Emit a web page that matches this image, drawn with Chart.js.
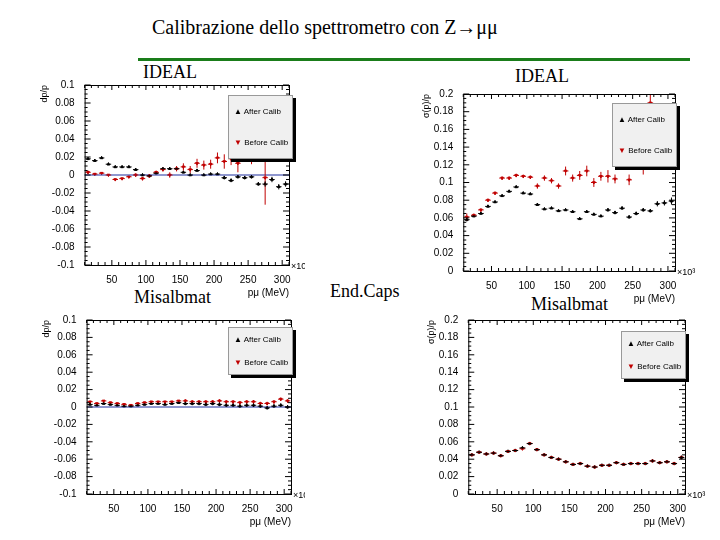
<!DOCTYPE html>
<html><head><meta charset="utf-8">
<script src="https://cdn.jsdelivr.net/npm/chart.js@4"></script>
<style>
body{margin:0;width:720px;height:540px;background:#fff;position:relative;overflow:hidden;font-family:"Liberation Serif",serif}
.t{position:absolute;font-size:18px;color:#000}
canvas{position:absolute}
.leg{position:absolute;background:#f0f0f0;border:1px solid #999;box-shadow:3px 3px 0 #000;font-family:"Liberation Sans",sans-serif;font-size:8px;padding:0 0 0 5px;width:58px;white-space:nowrap;overflow:hidden}
.leg div{height:31px;line-height:31px}
.leg.s div{height:23px;line-height:23px}
</style></head><body>
<div class="t" style="left:152px;top:16px;font-size:20px">Calibrazione dello spettrometro con Z→μμ</div>
<div style="position:absolute;left:138px;top:58px;width:552px;height:3px;background:#1a7d1a"></div>
<div class="t" style="left:143px;top:62px">IDEAL</div>
<div class="t" style="left:515px;top:66px">IDEAL</div>
<div class="t" style="left:134px;top:287px">Misalbmat</div>
<div class="t" style="left:330px;top:281px">End.Caps</div>
<div class="t" style="left:531px;top:294px">Misalbmat</div>
<canvas id="c1" width="280" height="228" style="left:25px;top:73px"></canvas>
<canvas id="c2" width="295" height="227" style="left:410px;top:80px"></canvas>
<canvas id="c3" width="280" height="222" style="left:25px;top:308px"></canvas>
<canvas id="c4" width="295" height="220" style="left:412px;top:310px"></canvas>
<script>
const pBins = [15,25,35,45,55,65,75,85,95,105,115,125,135,145,155,165,175,185,195,205,215,225,235,245,255,265,275,285,295,305];
const xTicks = [50,100,150,200,250,300];

const biasIdealAfter  = [0.018,0.016,0.019,0.012,0.009,0.009,0.009,0.006,0.000,-0.001,0.002,0.007,0.007,0.007,0.003,0.000,0.005,0.000,0.001,0.001,-0.003,-0.006,-0.002,-0.003,-0.002,-0.010,-0.010,-0.005,-0.013,-0.010];
const biasIdealAfterErr = [0.001,0.001,0.001,0.001,0.001,0.001,0.001,0.001,0.001,0.001,0.001,0.001,0.001,0.001,0.001,0.001,0.001,0.001,0.001,0.001,0.002,0.002,0.002,0.002,0.002,0.002,0.003,0.003,0.003,0.003];
const biasIdealBefore = [0.003,0.001,0.002,0.000,-0.005,-0.004,-0.002,0.000,-0.004,-0.001,0.003,0.006,0.000,0.007,0.009,0.006,0.013,0.011,0.012,0.019,0.015,0.018,0.013,0.026,0.022,0.025,-0.003,0.040,0.040,0.045];
const biasIdealBeforeErr = [0.002,0.001,0.001,0.001,0.001,0.001,0.001,0.002,0.002,0.002,0.002,0.002,0.003,0.003,0.004,0.004,0.005,0.005,0.005,0.006,0.008,0.007,0.010,0.007,0.010,0.008,0.030,0.015,0.020,0.020];

const resIdealAfter  = [0.058,0.062,0.065,0.073,0.078,0.085,0.090,0.095,0.088,0.087,0.075,0.070,0.071,0.068,0.069,0.067,0.059,0.067,0.064,0.062,0.069,0.066,0.071,0.061,0.065,0.069,0.068,0.076,0.077,0.079];
const resIdealAfterErr = [0.002,0.001,0.001,0.001,0.001,0.001,0.001,0.001,0.001,0.001,0.001,0.001,0.001,0.001,0.001,0.001,0.001,0.001,0.001,0.001,0.002,0.002,0.002,0.002,0.002,0.002,0.002,0.003,0.003,0.004];
const resIdealBefore = [0.061,0.063,0.069,0.080,0.088,0.105,0.105,0.108,0.107,0.106,0.096,0.105,0.102,0.096,0.113,0.105,0.108,0.113,0.100,0.107,0.107,0.104,0.130,0.103,0.130,0.117,0.190,0.150,0.160,0.170];
const resIdealBeforeErr = [0.004,0.002,0.002,0.002,0.002,0.002,0.002,0.002,0.002,0.002,0.003,0.003,0.003,0.003,0.005,0.004,0.005,0.006,0.005,0.005,0.007,0.005,0.010,0.006,0.012,0.008,0.015,0.015,0.015,0.015];

const biasMisAfter  = [0.003,0.002,0.004,0.003,0.002,0.001,0.001,0.002,0.003,0.004,0.004,0.003,0.004,0.005,0.004,0.004,0.004,0.003,0.004,0.003,0.002,0.002,0.001,0.002,0.002,0.001,-0.001,0.001,0.002,0.000];
const biasMisBefore = [0.006,0.004,0.007,0.005,0.004,0.003,0.002,0.004,0.005,0.006,0.006,0.006,0.006,0.007,0.007,0.006,0.006,0.006,0.006,0.007,0.006,0.006,0.005,0.006,0.006,0.004,0.004,0.006,0.009,0.007];
const biasMisErr = [0.001,0.001,0.001,0.001,0.001,0.001,0.001,0.001,0.001,0.001,0.001,0.001,0.001,0.001,0.002,0.002,0.002,0.002,0.002,0.002,0.002,0.002,0.002,0.002,0.002,0.002,0.002,0.002,0.002,0.002];

const resMisAfter  = [0.045,0.048,0.046,0.047,0.044,0.049,0.050,0.053,0.058,0.051,0.045,0.042,0.040,0.037,0.034,0.035,0.032,0.031,0.033,0.033,0.036,0.034,0.035,0.035,0.035,0.038,0.036,0.037,0.035,0.042];
const resMisBefore = [0.045,0.048,0.046,0.047,0.044,0.049,0.050,0.052,0.058,0.051,0.045,0.042,0.040,0.037,0.034,0.035,0.032,0.031,0.033,0.033,0.036,0.034,0.035,0.035,0.035,0.038,0.036,0.037,0.035,0.042];
const resMisErr = [0.001,0.001,0.001,0.001,0.001,0.001,0.001,0.001,0.001,0.001,0.001,0.001,0.001,0.001,0.001,0.001,0.001,0.001,0.001,0.001,0.001,0.001,0.001,0.001,0.001,0.001,0.001,0.001,0.001,0.002];

const errBars = {
  id: 'errBars',
  afterDatasetsDraw(chart) {
    const {ctx, scales: {x, y}} = chart;
    const a = chart.chartArea;
    ctx.save();
    ctx.beginPath(); ctx.rect(a.left, a.top, a.width, a.height); ctx.clip();
    chart.data.datasets.forEach(ds => {
      if (!ds.err) return;
      ctx.strokeStyle = ds.borderColor; ctx.lineWidth = 1;
      ds.data.forEach((p, i) => {
        const e = ds.err[i];
        ctx.beginPath();
        ctx.moveTo(x.getPixelForValue(p.x - 4), y.getPixelForValue(p.y));
        ctx.lineTo(x.getPixelForValue(p.x + 4), y.getPixelForValue(p.y));
        ctx.moveTo(x.getPixelForValue(p.x), y.getPixelForValue(p.y - e));
        ctx.lineTo(x.getPixelForValue(p.x), y.getPixelForValue(p.y + e));
        ctx.stroke();
      });
    });
    ctx.restore();
    ctx.save();
    ctx.strokeStyle = '#000'; ctx.lineWidth = 1;
    ctx.strokeRect(a.left + 0.5, a.top + 0.5, a.width, a.height);
    // ROOT-style inner tick marks
    ctx.beginPath();
    for (let v = 10; v <= 310; v += 10) {
      const px = x.getPixelForValue(v), len = v % 50 === 0 ? 5 : 3;
      ctx.moveTo(px, a.bottom); ctx.lineTo(px, a.bottom - len);
      ctx.moveTo(px, a.top); ctx.lineTo(px, a.top + len);
    }
    const span = y.max - y.min;
    for (let k = 0; k <= 40; k++) {
      const py = y.getPixelForValue(y.min + span * k / 40), len = k % 4 === 0 ? 6 : 3;
      ctx.moveTo(a.left, py); ctx.lineTo(a.left + len, py);
      ctx.moveTo(a.right, py); ctx.lineTo(a.right - len, py);
    }
    ctx.stroke();
    ctx.fillStyle = '#000'; ctx.font = '9px "Liberation Sans"';
    ctx.fillText('×10³', a.right + 2, a.bottom + 4);
    ctx.restore();
  }
};

function makeChart(id, after, afterErr, before, beforeErr, ymin, ymax, step, ytitle, zeroLine, pad) {
  const pts = v => pBins.map((x, i) => ({x, y: v[i]}));
  const ds = [
    {data: pts(before), err: beforeErr, borderColor: '#c00000', backgroundColor: '#c00000', pointStyle: 'triangle', rotation: 180, pointRadius: 1.6, showLine: false},
    {data: pts(after), err: afterErr, borderColor: '#000', backgroundColor: '#000', pointStyle: 'triangle', pointRadius: 1.6, showLine: false}
  ];
  if (zeroLine) ds.unshift({data: [{x: 10, y: 0}, {x: 310, y: 0}], borderColor: '#2030a0', borderWidth: 1.2, pointRadius: 0, showLine: true});
  new Chart(document.getElementById(id), {
    type: 'scatter',
    data: {datasets: ds},
    plugins: [errBars],
    options: {
      responsive: false, animation: false,
      layout: {padding: pad},
      plugins: {legend: {display: false}, tooltip: {enabled: false}},
      scales: {
        x: {type: 'linear', min: 10, max: 310,
          afterBuildTicks: ax => { ax.ticks = xTicks.map(v => ({value: v})); },
          grid: {display: false}, border: {display: false},
          ticks: {color: '#000', font: {family: 'Liberation Sans', size: 10}, padding: 1},
          title: {display: true, text: 'pμ (MeV)', align: 'end', color: '#000', font: {family: 'Liberation Sans', size: 10}, padding: 0}},
        y: {min: ymin, max: ymax,
          ticks: {stepSize: step, color: '#000', font: {family: 'Liberation Sans', size: 10}, padding: 2,
            callback: v => Math.abs(v) < 1e-9 ? '0' : +v.toFixed(2)},
          grid: {display: false}, border: {display: false},
          title: {display: true, text: ytitle, align: 'end', color: '#000', font: {family: 'Liberation Sans', size: 9}, padding: 0}}
      }
    }
  });
}

makeChart('c1', biasIdealAfter, biasIdealAfterErr, biasIdealBefore, biasIdealBeforeErr, -0.1, 0.1, 0.02, 'dp/p', true, {top: 12, right: 16, left: 14, bottom: 2});
makeChart('c2', resIdealAfter, resIdealAfterErr, resIdealBefore, resIdealBeforeErr, 0, 0.2, 0.02, 'σ(p)/p', false, {top: 14, right: 30, left: 11, bottom: 2});
makeChart('c3', biasMisAfter, biasMisErr, biasMisBefore, biasMisErr, -0.1, 0.1, 0.02, 'dp/p', true, {top: 12, right: 14, left: 16, bottom: 2});
makeChart('c4', resMisAfter, resMisErr, resMisBefore, resMisErr, 0, 0.2, 0.02, 'σ(p)/p', false, {top: 10, right: 22, left: 14, bottom: 2});
</script>
<div class="leg" style="left:228px;top:95px;height:62px"><div>▲ After Calib</div><div><span style="color:#c00000">▼</span> Before Calib</div></div>
<div class="leg" style="left:612px;top:103px;height:62px"><div>▲ After Calib</div><div><span style="color:#c00000">▼</span> Before Calib</div></div>
<div class="leg s" style="left:228px;top:327px;height:46px"><div>▲ After Calib</div><div><span style="color:#c00000">▼</span> Before Calib</div></div>
<div class="leg s" style="left:621px;top:331px;height:46px"><div>▲ After Calib</div><div><span style="color:#c00000">▼</span> Before Calib</div></div>
</body></html>
